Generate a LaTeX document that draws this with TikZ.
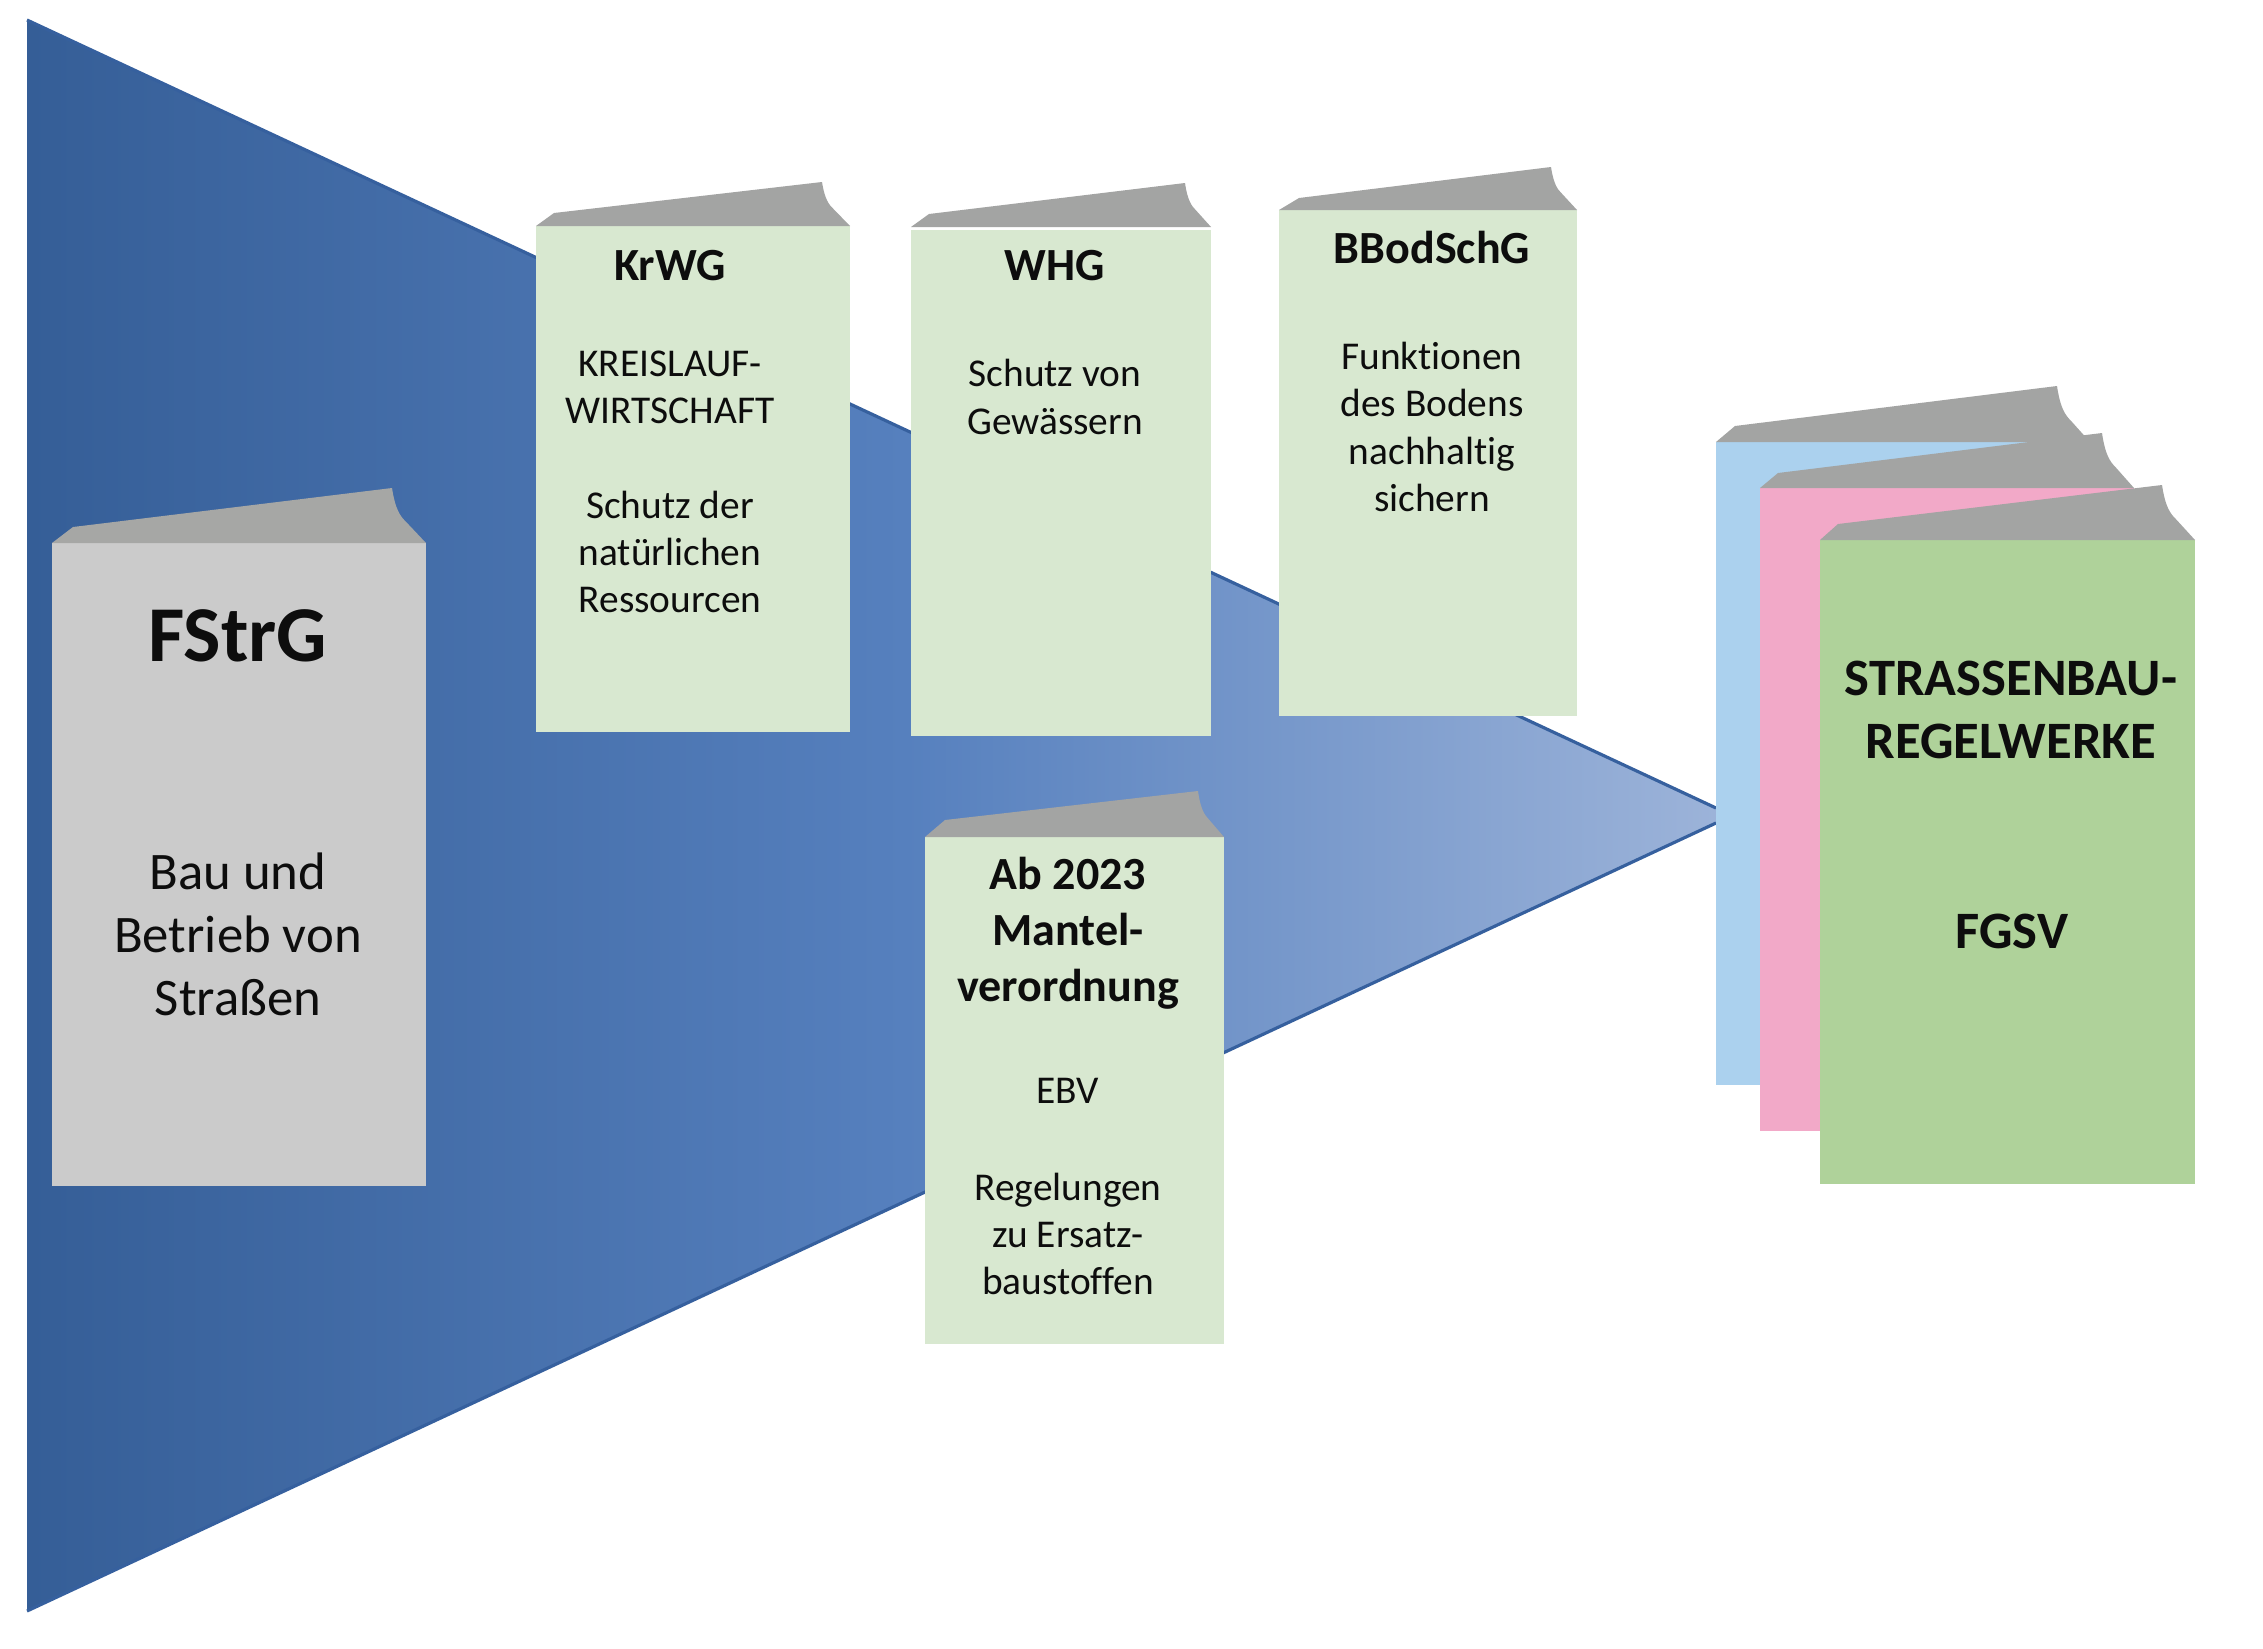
\documentclass[tikz,border=0pt]{standalone}
\usepackage{fontspec}
\setmainfont{Carlito}[Ligatures={NoCommon}]
\definecolor{trapL}{HTML}{355E97}
\definecolor{trapM}{HTML}{5680BE}
\definecolor{trapR}{HTML}{9CB3D9}
\definecolor{trapE}{HTML}{36609E}
\definecolor{greyBody}{HTML}{CBCBCB}
\definecolor{coverLeft}{HTML}{A6A7A5}
\definecolor{coverGrey}{HTML}{A3A4A3}
\definecolor{lawGreen}{HTML}{D8E8D0}
\definecolor{ruleBlue}{HTML}{ABD1EE}
\definecolor{rulePink}{HTML}{F2A9C8}
\definecolor{ruleGreen}{HTML}{AFD29A}
\pgfdeclarehorizontalshading{trapshade}{100bp}{
 color(0bp)=(trapL); color(25bp)=(trapL); color(51bp)=(trapM); color(75bp)=(trapR); color(100bp)=(trapR)}
% cover: colour, x0, y0, shoulder x, shoulder y, peak x, peak y, x1
\newcommand{\bookcover}[8]{%
 \fill[#1] (#2,#3) -- (#4,#5) -- (#6,#7)
  .. controls ({#6+0.10*(#8-#6)},{#7+0.40*(#3-#7)}) and ({#6+0.25*(#8-#6)},{#7+0.52*(#3-#7)})
  .. ({#6+0.42*(#8-#6)},{#7+0.62*(#3-#7)}) -- (#8,#3) -- cycle;}
\tikzset{
 txt/.style={align=center,inner sep=0pt,text=black!95},
 big/.style={txt,font=\fontsize{22.5}{27}\selectfont\bfseries},
 mid/.style={txt,font=\fontsize{15}{17.9}\selectfont},
 head/.style={txt,font=\fontsize{13.1}{16}\selectfont\bfseries},
 rulehead/.style={txt,font=\fontsize{14.95}{17.7}\selectfont\bfseries},
 small/.style={txt,font=\fontsize{11.2}{13.4}\selectfont}
}
\begin{document}
\begin{tikzpicture}[x=0.01cm,y=-0.01cm]
\useasboundingbox (0,0) rectangle (2263,1648);
\fill[white] (0,0) rectangle (2263,1648);
% funnel
\shade[shading=trapshade] (27,20) -- (1716,808) -- (1716,823) -- (27,1611) -- cycle;
\coordinate (funnelTL) at (27,20);
\coordinate (funnelTR) at (1716,808);
\coordinate (funnelBL) at (27,1611);
\coordinate (funnelBR) at (1716,823);
\draw[trapE,line width=0.9pt] (funnelTL) -- (funnelTR);
\draw[trapE,line width=0.9pt] (funnelBL) -- (funnelBR);

% FStrG
\fill[greyBody] (52,543) rectangle (426,1186);
\bookcover{coverLeft}{52}{543}{73}{527}{392}{488}{426}
\node[big] (fstrg) at (238,636) {FStrG};
\node[mid] (fstrgtext) at (238,934) {Bau und\\Betrieb von\\Straßen};

% KrWG
\fill[lawGreen] (536,226) rectangle (850,732);
\bookcover{coverGrey}{536}{226}{554}{213}{822}{182}{850}
\node[head] (krwg) at (670,266) {KrWG};
\node[small] (krwgtext) at (670,482) {KREISLAUF-\\WIRTSCHAFT\\[13.4pt]Schutz der\\natürlichen\\Ressourcen};

% WHG
\fill[lawGreen] (911,230) rectangle (1211,736);
\bookcover{coverGrey}{911}{227}{929}{214}{1185}{183}{1211}
\node[head] (whg) at (1055,266) {WHG};
\node[small] (whgtext) at (1055,397) {Schutz von\\Gewässern};

% BBodSchG
\fill[lawGreen] (1279,210) rectangle (1577,716);
\bookcover{coverGrey}{1279}{210}{1299}{198}{1551}{167}{1577}
\node[head] (bbod) at (1432,248) {BBodSchG};
\node[small] (bbodtext) at (1432,427) {Funktionen\\des Bodens\\nachhaltig\\sichern};

% Mantelverordnung
\fill[lawGreen] (925,837) rectangle (1224,1344);
\bookcover{coverGrey}{925}{837}{945}{820}{1198}{791}{1224}
\node[head] (mantel) at (1068,933) {Ab 2023\\Mantel-\\verordnung};
\node[small] (ebv) at (1068,1091) {EBV};
\node[small] (ersatz) at (1068,1234) {Regelungen\\zu Ersatz-\\baustoffen};

% Regelwerke
\fill[ruleBlue] (1716,442) rectangle (2090,1085);
\bookcover{coverGrey}{1716}{442}{1735}{426}{2057}{386}{2090}
\fill[rulePink] (1760,488) rectangle (2134,1131);
\bookcover{coverGrey}{1760}{488}{1778}{473}{2102}{433}{2134}
\fill[ruleGreen] (1820,540) rectangle (2195,1184);
\bookcover{coverGrey}{1820}{540}{1838}{524}{2162}{485}{2195}
\node[rulehead] (regel) at (2011,710) {STRASSENBAU-\\REGELWERKE};
\node[rulehead] (fgsv) at (2012,931) {FGSV};
\end{tikzpicture}
\end{document}
